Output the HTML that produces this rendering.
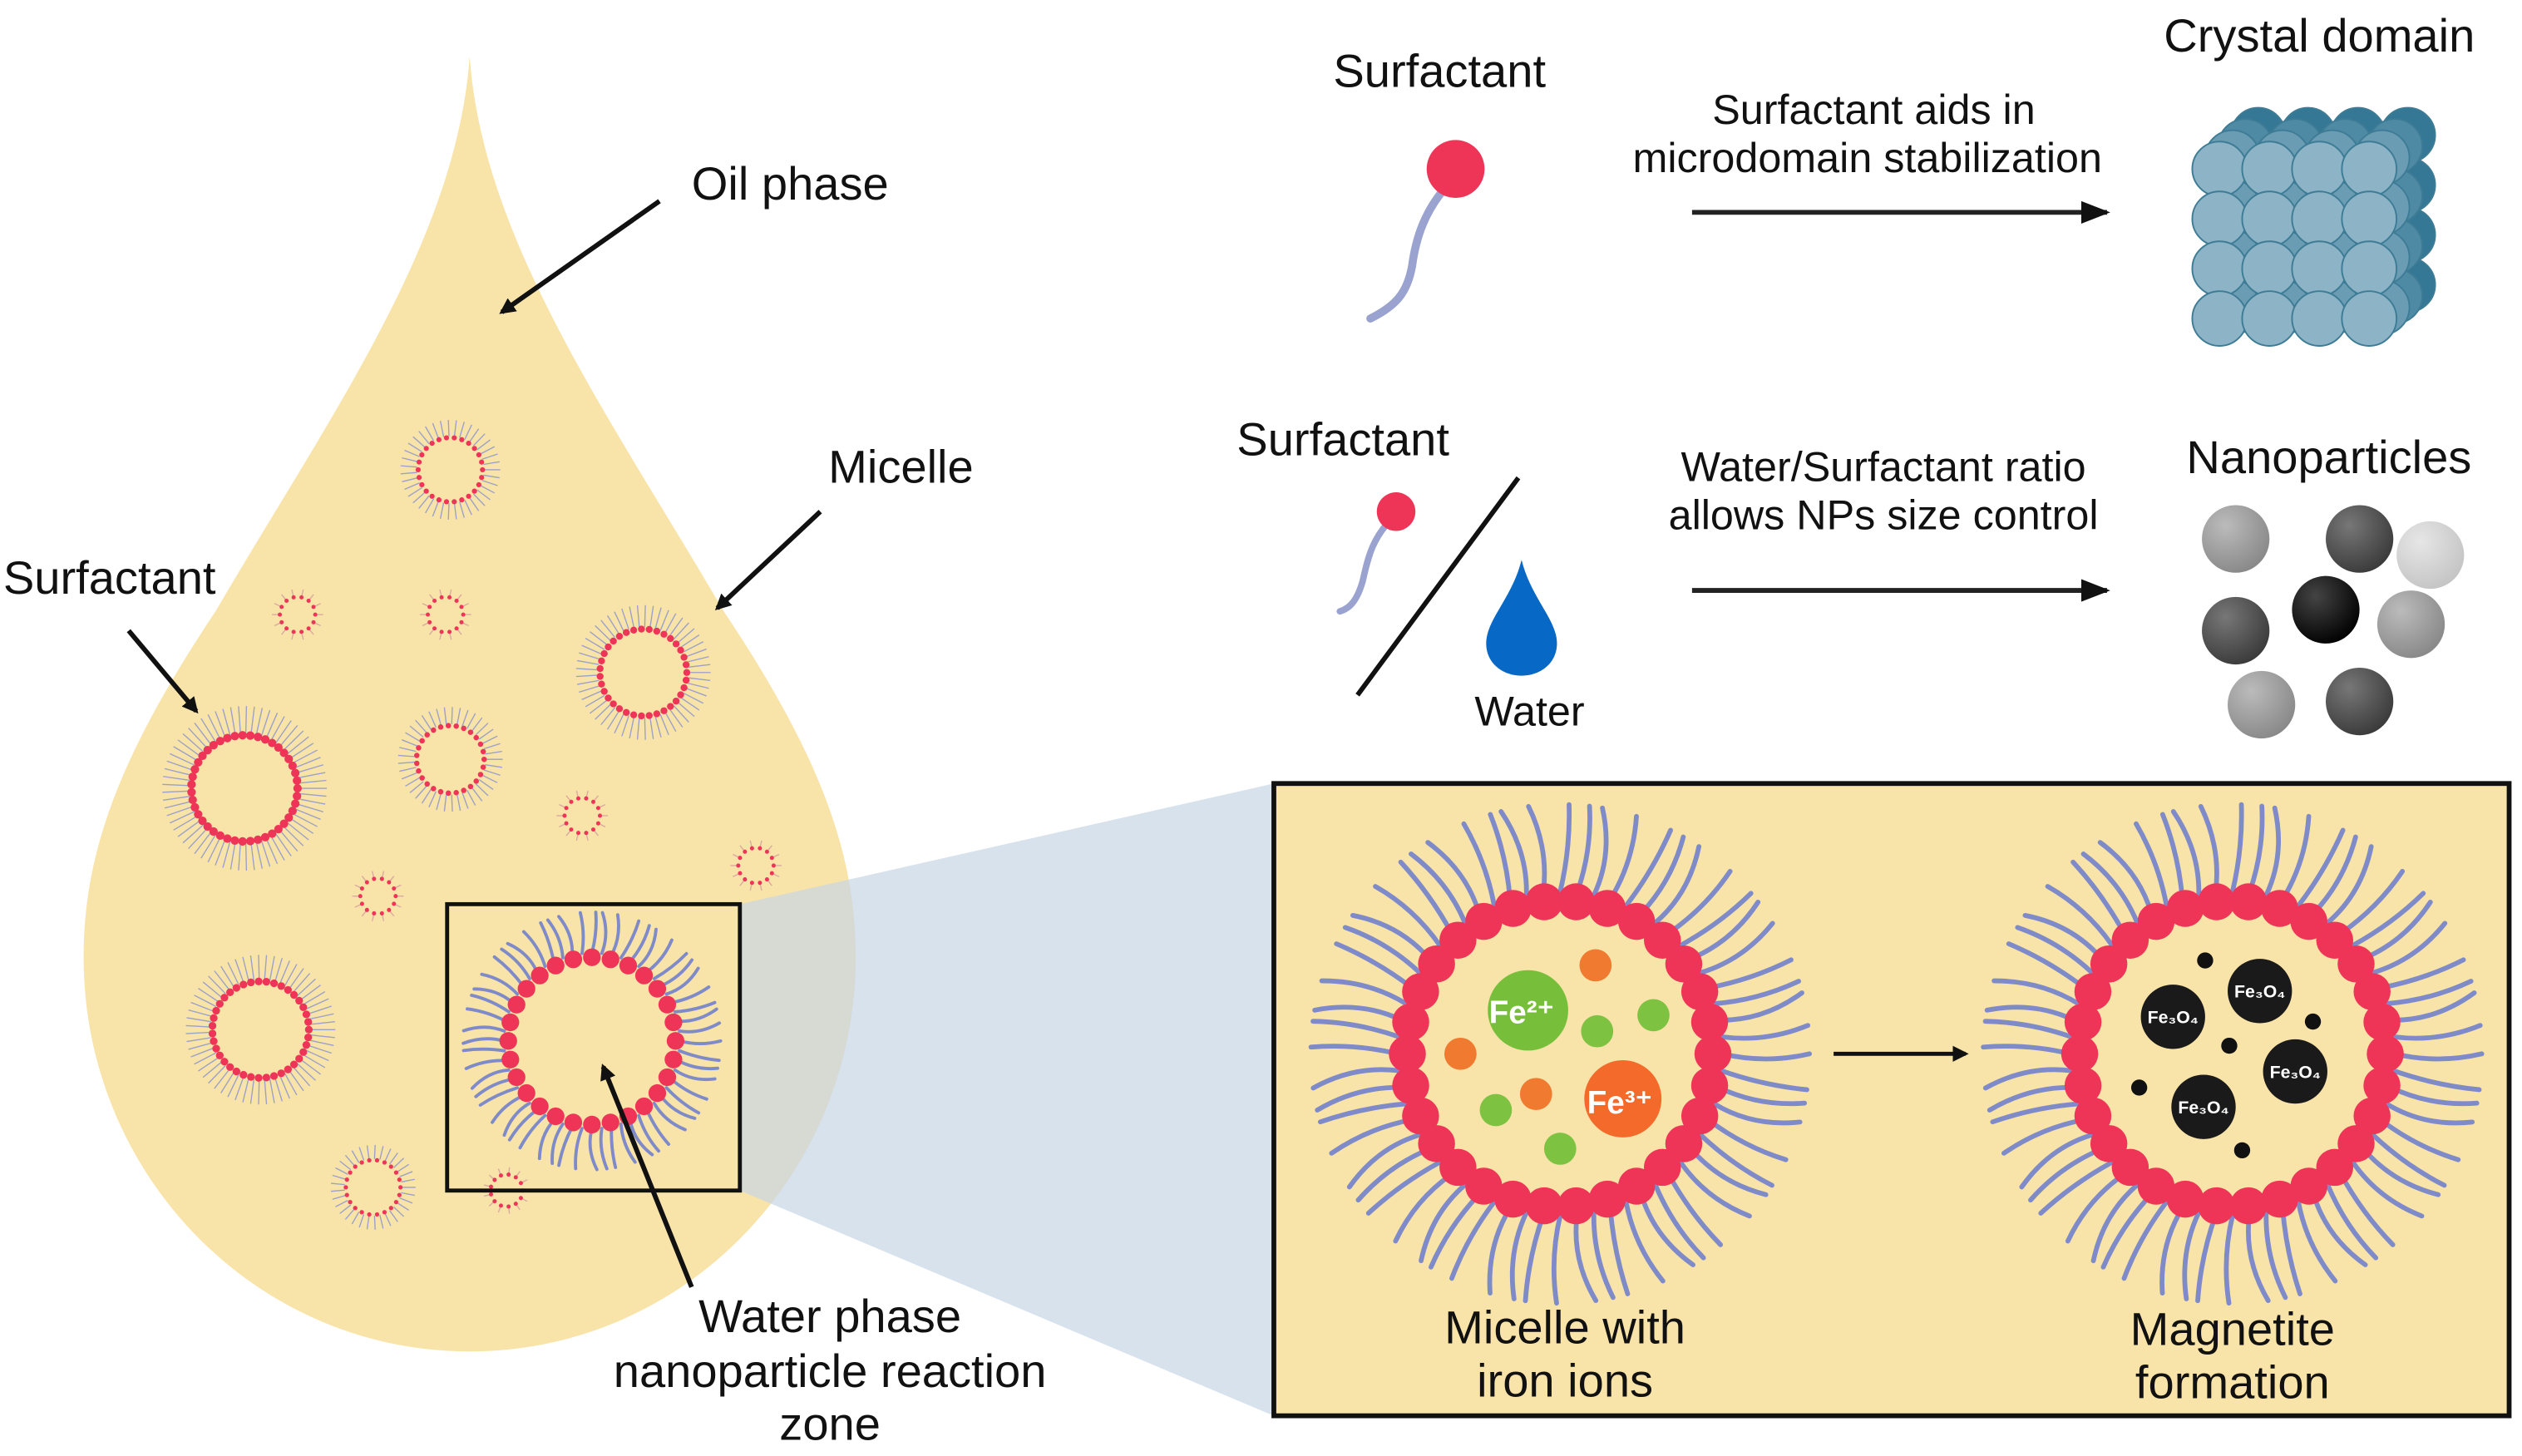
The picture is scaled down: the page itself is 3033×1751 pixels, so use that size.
<!DOCTYPE html>
<html><head><meta charset="utf-8"><style>
html,body{margin:0;padding:0;background:#fff;}
svg{display:block;}
text{font-family:"Liberation Sans",sans-serif;fill:#111;}
</style></head><body>
<svg id="s" width="3033" height="1751" viewBox="0 0 1568 905" preserveAspectRatio="none" xmlns="http://www.w3.org/2000/svg">
<defs>
<marker id="ah" markerWidth="10" markerHeight="10" refX="8" refY="5" orient="auto" markerUnits="userSpaceOnUse"><path d="M0,0 L10,5 L0,10 z" fill="#111"/></marker>
<marker id="ah2" markerWidth="18" markerHeight="14" refX="16" refY="7" orient="auto" markerUnits="userSpaceOnUse"><path d="M0,0 L18,7 L0,14 z" fill="#111"/></marker>
<radialGradient id="g1" cx="0.35" cy="0.3" r="0.75"><stop offset="0" stop-color="#bbb"/><stop offset="1" stop-color="#888"/></radialGradient>
<radialGradient id="g2" cx="0.35" cy="0.3" r="0.75"><stop offset="0" stop-color="#777"/><stop offset="1" stop-color="#3a3a3a"/></radialGradient>
<radialGradient id="g3" cx="0.35" cy="0.3" r="0.75"><stop offset="0" stop-color="#e6e6e6"/><stop offset="1" stop-color="#c4c4c4"/></radialGradient>
<radialGradient id="g4" cx="0.35" cy="0.3" r="0.75"><stop offset="0" stop-color="#444"/><stop offset="1" stop-color="#000"/></radialGradient>
</defs>
<path d="M292,35 C300,150 380,260 450,380 C510,470 532,530 532,595 C532,730 425,840 292,840 C159,840 52,730 52,595 C52,530 74,470 134,380 C204,260 284,150 292,35 Z" fill="#f8e3a9"/>
<polygon points="460,562 792,487 792,880 460,740" fill="#c7d6e6" opacity="0.7"/>
<rect x="792" y="487" width="768" height="393" fill="#f8e3a9" stroke="#111" stroke-width="3"/>
<g id="mic"></g>
<rect x="278" y="562" width="182" height="178" fill="none" stroke="#111" stroke-width="2.5"/>
<line x1="410" y1="125" x2="312" y2="194" stroke="#111" stroke-width="3" marker-end="url(#ah)"/>
<line x1="510" y1="318" x2="446" y2="378" stroke="#111" stroke-width="3" marker-end="url(#ah)"/>
<line x1="80" y1="392" x2="122" y2="442" stroke="#111" stroke-width="3" marker-end="url(#ah)"/>
<line x1="430" y1="800" x2="375" y2="663" stroke="#111" stroke-width="3" marker-end="url(#ah)"/>
<text x="430" y="124" font-size="29">Oil phase</text>
<text x="515" y="300" font-size="29">Micelle</text>
<text x="2" y="369" font-size="29">Surfactant</text>
<text x="516" y="828" font-size="29" text-anchor="middle">Water phase</text>
<text x="516" y="862" font-size="29" text-anchor="middle">nanoparticle reaction</text>
<text x="516" y="895" font-size="29" text-anchor="middle">zone</text>
<text x="895" y="54" font-size="29" text-anchor="middle">Surfactant</text>
<path d="M903,112 C885,130 880,150 878,165 C875,182 868,190 852,198" fill="none" stroke="#9aa3cf" stroke-width="5" stroke-linecap="round"/>
<circle cx="905" cy="105" r="18" fill="#ee3557"/>
<text x="1165" y="77" font-size="26" text-anchor="middle">Surfactant aids in</text>
<text x="1161" y="107" font-size="26" text-anchor="middle">microdomain stabilization</text>
<line x1="1052" y1="132" x2="1310" y2="132" stroke="#222" stroke-width="3" marker-end="url(#ah2)"/>
<text x="1442" y="32" font-size="29" text-anchor="middle">Crystal domain</text>
<g id="cube"></g>
<text x="835" y="283" font-size="29" text-anchor="middle">Surfactant</text>
<path d="M866,322 C852,335 850,350 847,362 C844,372 840,378 833,380" fill="none" stroke="#9aa3cf" stroke-width="4" stroke-linecap="round"/>
<circle cx="868" cy="318" r="12" fill="#ee3557"/>
<line x1="944" y1="297" x2="844" y2="432" stroke="#111" stroke-width="3"/>
<path d="M946,348 C952,372 968,385 968,400 C968,412 958,420 946,420 C934,420 924,412 924,400 C924,385 940,372 946,348 Z" fill="#0868c6"/>
<text x="951" y="451" font-size="26" text-anchor="middle">Water</text>
<text x="1171" y="299" font-size="26" text-anchor="middle">Water/Surfactant ratio</text>
<text x="1171" y="329" font-size="26" text-anchor="middle">allows NPs size control</text>
<line x1="1052" y1="367" x2="1310" y2="367" stroke="#222" stroke-width="3" marker-end="url(#ah2)"/>
<text x="1448" y="294" font-size="29" text-anchor="middle">Nanoparticles</text>
<circle cx="1390" cy="335" r="21" fill="url(#g1)"/>
<circle cx="1467" cy="335" r="21" fill="url(#g2)"/>
<circle cx="1511" cy="345" r="21" fill="url(#g3)"/>
<circle cx="1446" cy="379" r="21" fill="url(#g4)"/>
<circle cx="1390" cy="392" r="21" fill="url(#g2)"/>
<circle cx="1499" cy="388" r="21" fill="url(#g1)"/>
<circle cx="1406" cy="438" r="21" fill="url(#g1)"/>
<circle cx="1467" cy="436" r="21" fill="url(#g2)"/>
<line x1="1140" y1="655" x2="1222" y2="655" stroke="#111" stroke-width="2.5" marker-end="url(#ah)"/>
<text x="973" y="835" font-size="29" text-anchor="middle">Micelle with</text>
<text x="973" y="868" font-size="29" text-anchor="middle">iron ions</text>
<text x="1388" y="836" font-size="29" text-anchor="middle">Magnetite</text>
<text x="1388" y="869" font-size="29" text-anchor="middle">formation</text>
<g id="ions"></g>
</svg>
<script>
var NS="http://www.w3.org/2000/svg";
function el(p,t,a){var e=document.createElementNS(NS,t);for(var k in a)e.setAttribute(k,a[k]);p.appendChild(e);return e;}
var mic=document.getElementById("mic");
function micelle(cx,cy,r,n,dotr,spike,sw,wavy,mult,scol){
  var g=el(mic,"g",{});
  var ns=Math.round(n*mult);
  for(var i=0;i<ns;i++){var a=2*Math.PI*i/ns;var r1=r+dotr*0.5,r2=r+spike;
    if(wavy){var am=a+0.04*Math.sin(i*1.7);var mid=(r1+r2)/2;
      el(g,"path",{d:"M"+(cx+r1*Math.cos(a))+","+(cy+r1*Math.sin(a))+" Q"+(cx+mid*Math.cos(a+0.05))+","+(cy+mid*Math.sin(a+0.05))+" "+(cx+r2*Math.cos(am))+","+(cy+r2*Math.sin(am)),stroke:"#7f8bc9",fill:"none","stroke-width":sw,"stroke-linecap":"round"});}
    else el(g,"line",{x1:cx+r1*Math.cos(a),y1:cy+r1*Math.sin(a),x2:cx+r2*Math.cos(a),y2:cy+r2*Math.sin(a),stroke:scol,"stroke-width":sw});}
  for(var i=0;i<n;i++){var a=2*Math.PI*i/n;el(g,"circle",{cx:cx+r*Math.cos(a),cy:cy+r*Math.sin(a),r:dotr,fill:"#ee3557"});}
}
var small=[[280,292,20],[185,382,11],[277,382,11],[400,418,27],[152,490,33],[280,472,21],[362,507,11],[235,557,11],[470,538,11],[162,640,30],[232,738,17],[315,740,10]];
small.forEach(function(m){var r=m[2];var n=Math.max(12,Math.round(r*1.3));var big=r>15;
  micelle(m[0],m[1],r,n,Math.max(1.3,r*0.08),r*(big?0.55:0.45),0.7,false,big?1.5:1,big?"#9aa0c8":"#d9a9a0");});
micelle(368,647,52,28,5.5,28,2,true,2);
micelle(970,655,95,30,11.5,60,3,true,2);
micelle(1388,655,95,30,11.5,60,3,true,2);
var io=document.getElementById("ions");
function c(x,y,r,f){el(io,"circle",{cx:x,cy:y,r:r,fill:f});}
c(950,628,25,"#77bf3b");c(1009,683,24,"#f36a2a");
[[992,600],[908,655],[955,680]].forEach(function(p){c(p[0],p[1],10,"#f07a30")});
[[993,641],[1028,631],[930,690],[970,714]].forEach(function(p){c(p[0],p[1],10,"#7ec242")});
function t(x,y,s,fs,fill){var e=el(io,"text",{x:x,y:y,"font-size":fs,"text-anchor":"middle","font-weight":"bold"});e.style.fill=fill;e.textContent=s;}
t(946,636,"Fe²⁺",20,"#fff");t(1007,692,"Fe³⁺",20,"#fff");
[[1351,632],[1405,616],[1427,666],[1370,688]].forEach(function(p){c(p[0],p[1],20,"#1a1a1a");t(p[0],p[1]+4,"Fe₃O₄",11,"#fff");});
[[1371,597],[1438,635],[1386,650],[1330,676],[1394,715]].forEach(function(p){c(p[0],p[1],5,"#111")});
var cb=document.getElementById("cube");
var ox=1380,oy=105,rr=17;
for(var l=3;l>=0;l--){var dx=l*8,dy=-l*7;
  var col=["#8db4c6","#6a9db4","#4f8aa4","#357896"][l];
  for(var r=0;r<4;r++)for(var k=0;k<4;k++)el(cb,"circle",{cx:ox+k*31+dx,cy:oy+r*31+dy,r:rr,fill:col,stroke:"#3e7b95","stroke-width":1});}
</script>
</body></html>
